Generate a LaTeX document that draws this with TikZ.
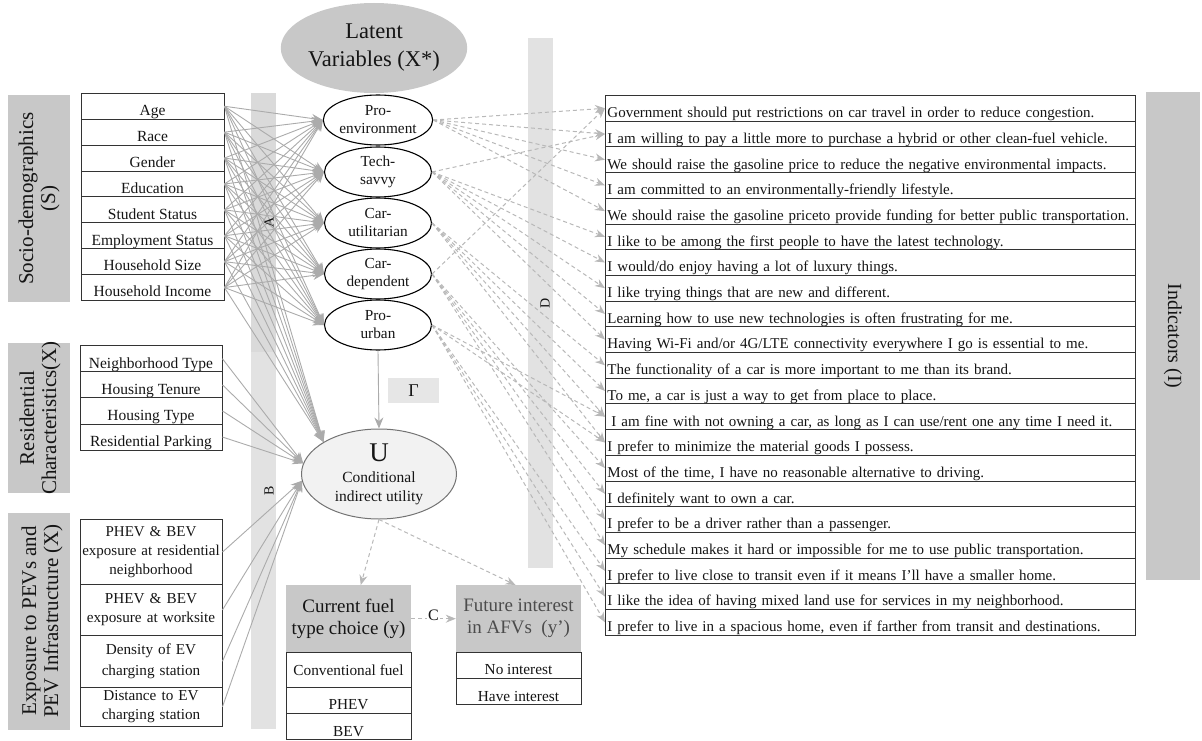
\documentclass[tikz,border=0pt]{standalone}
\usepackage{fontspec}
\setmainfont{Liberation Serif}
\usetikzlibrary{arrows.meta,shapes.geometric}
\definecolor{barA}{HTML}{C8C8C8}
\definecolor{barL}{HTML}{E2E2E2}
\definecolor{barL2}{HTML}{DADADA}
\definecolor{gbox}{HTML}{E6E6E6}
\definecolor{ufill}{HTML}{F2F2F2}
\definecolor{lineS}{HTML}{ABABAB}
\definecolor{lineD}{HTML}{B8B8B8}
\definecolor{ink}{HTML}{151515}
\begin{document}
\begin{tikzpicture}[x=1pt,y=-1pt,
  every node/.style={text=ink},
  sitem/.style={draw=black!80, line width=0.9pt, minimum width=143pt, minimum height=25.9pt, inner sep=0pt, text height=22.2pt, text depth=3.7pt, font=\fontsize{15.5}{18}\selectfont},
  ritem/.style={sitem, minimum width=142pt, minimum height=26.1pt, text height=22.4pt},
  eitem/.style={draw=black!80, line width=0.9pt, minimum width=142pt, inner sep=0pt, text width=142pt, align=center, anchor=north, font=\fontsize{15.2}{19}\selectfont},
  latent/.style={ellipse, draw=black, line width=1.1pt, fill=white, minimum width=107pt, minimum height=50pt, inner sep=0pt, align=center, font=\fontsize{15.3}{18}\selectfont},
  indic/.style={draw=black!80, line width=0.9pt, anchor=north west, inner xsep=2pt, inner ysep=0pt, text width=526pt, minimum height=25.7pt, text height=22.2pt, text depth=3.5pt, font=\fontsize{15}{16}\selectfont},
  frow/.style={draw=black!80, line width=0.9pt, anchor=north, minimum width=125pt, inner sep=0pt, font=\fontsize{15.3}{18}\selectfont},
  fhead/.style={fill=barA, anchor=north, minimum width=125pt, minimum height=67pt, inner sep=0pt, align=center, font=\fontsize{19}{22}\selectfont},
  sidelab/.style={rotate=90, align=center, font=\fontsize{21}{22}\selectfont},
  barlab/.style={rotate=90, font=\fontsize{14}{14}\selectfont},
  sarr/.style={draw=lineS, line width=0.9pt, -{Stealth[length=11pt,width=9pt]}},
  darr/.style={draw=lineD, line width=1pt, dash pattern=on 4pt off 3pt, -{Stealth[length=10pt,width=8pt]}}
]
\useasboundingbox (0,0) rectangle (1202,741);
% background bars
\fill[barA] (8,95) rectangle (70,302);
\fill[barA] (8,343) rectangle (70,493);
\fill[barA] (8,513) rectangle (70,730);
\fill[barA] (1146,92) rectangle (1200,580);
\fill[barL2] (251,93) rectangle (276,352);
\fill[barL] (251,352) rectangle (276,729);
\fill[barL] (528,38) rectangle (553,568);
\node[sidelab] (labS) at (39,198.5) {Socio-demographics\\(S)};
\node[sidelab] (labR) at (40,418) {Residential\\Characteristics(X)};
\node[sidelab] (labE) at (42,621) {Exposure to PEVs and\\PEV Infrastructure (X)};
\node[rotate=-90, font=\fontsize{20}{21}\selectfont] (labI) at (1173,336) {Indicators (I)};
% socio-demographic items
\foreach [count=\i] \t in {Age,Race,Gender,Education,Student Status,Employment Status,Household Size,Household Income}
  \node[sitem] (s\i) at (152.5,{93.3+25.9*(\i-0.5)}) {\t};
% residential items
\foreach [count=\i] \t in {Neighborhood Type,Housing Tenure,Housing Type,Residential Parking}
  \node[ritem] (r\i) at (151,{345.7+26.1*(\i-0.5)}) {\t};
% exposure items
\node[eitem, minimum height=64.7pt, font=\fontsize{15}{19}\selectfont] (e1) at (151,519.3) {PHEV \& BEV\\exposure at residential\\neighborhood};
\node[eitem, minimum height=51pt] (e2) at (151,584) {PHEV \& BEV\\exposure at worksite};
\node[eitem, minimum height=51.7pt, font=\fontsize{15.2}{21}\selectfont] (e3) at (151,635) {Density of EV\\charging station};
\node[eitem, minimum height=39.3pt] (e4) at (151,686.7) {Distance to EV\\charging station};
% latent variables
\node[ellipse, fill=barA, minimum width=173pt, minimum height=90pt, inner sep=0pt, align=center, font=\fontsize{22.5}{28}\selectfont] (lv) at (374,48) {Latent\\Variables (X*)};
\node[latent] (pe) at (378,120) {Pro-\\environment};
\node[latent] (ts) at (378,172) {Tech-\\savvy};
\node[latent] (cu) at (378,223) {Car-\\utilitarian};
\node[latent] (cd) at (378,274) {Car-\\dependent};
\node[latent] (pu) at (378,325) {Pro-\\urban};
% Gamma
\node[fill=gbox, minimum width=51pt, minimum height=25pt, inner sep=0pt, font=\fontsize{18}{18}\selectfont] (gam) at (413.5,390.5) {Γ};
% utility
\node[ellipse, fill=ufill, draw=black!55, line width=1pt, minimum width=155pt, minimum height=90pt, inner sep=0pt, align=center, font=\fontsize{15.5}{18.5}\selectfont] (U) at (379,474) {{\fontsize{27}{27}\selectfont U}\\[3pt]Conditional\\indirect utility};
% choices
\node[fhead] (cf) at (348.5,585) {Current fuel\\type choice (y)};
\node[frow, minimum height=34.7pt] (cf1) at (348.5,652) {Conventional fuel};
\node[frow, minimum height=26pt, text height=22.3pt, text depth=3.7pt] (cf2) at (348.5,686.7) {PHEV};
\node[frow, minimum height=26.6pt, text height=22.9pt, text depth=3.7pt] (cf3) at (348.5,712.7) {BEV};
\node[fhead, text=black!70] (fi) at (518.5,585) {Future interest\\in AFVs~~(y')};
\node[frow, minimum height=26.3pt, text height=21.8pt, text depth=4.5pt] (fi1) at (518.5,652) {No interest};
\node[frow, minimum height=26pt, text height=22.3pt, text depth=3.7pt] (fi2) at (518.5,678.3) {Have interest};
% indicators
\foreach [count=\i] \t in {
 {Government should put restrictions on car travel in order to reduce congestion.},
 {I am willing to pay a little more to purchase a hybrid or other clean-fuel vehicle.},
 {We should raise the gasoline price to reduce the negative environmental impacts.},
 {I am committed to an environmentally-friendly lifestyle.},
 {We should raise the gasoline priceto provide funding for better public transportation.},
 {I like to be among the first people to have the latest technology.},
 {I would/do enjoy having a lot of luxury things.},
 {I like trying things that are new and different.},
 {Learning how to use new technologies is often frustrating for me.},
 {Having Wi-Fi and/or 4G/LTE connectivity everywhere I go is essential to me.},
 {The functionality of a car is more important to me than its brand.},
 {To me, a car is just a way to get from place to place.},
 {\hspace{4pt}I am fine with not owning a car, as long as I can use/rent one any time I need it.},
 {I prefer to minimize the material goods I possess.},
 {Most of the time, I have no reasonable alternative to driving.},
 {I definitely want to own a car.},
 {I prefer to be a driver rather than a passenger.},
 {My schedule makes it hard or impossible for me to use public transportation.},
 {I prefer to live close to transit even if it means I'll have a smaller home.},
 {I like the idea of having mixed land use for services in my neighborhood.},
 {I prefer to live in a spacious home, even if farther from transit and destinations.}}
  \node[indic] (ind\i) at (605,{95+25.7*(\i-1)}) {\makebox[526pt][l]{\t}};
% solid connectors
\foreach \s in {1,...,8} {
  \foreach \l in {pe,ts,cu,cd,pu}
    \draw[sarr] (s\s.east) -- (\l.west);
  \draw[sarr] (s\s.east) -- (U.150);
}
\foreach \r in {1,...,4} \draw[sarr] (r\r.east) -- (U.172);
\foreach \e in {1,...,4} \draw[sarr] (e\e.east) -- (U.185);
\draw[sarr] (pu.south) -- (U.north);
% dashed connectors to indicators
\foreach \l/\k in {pe/1,pe/2,pe/3,pe/4,pe/5,ts/2,ts/6,ts/7,ts/8,ts/9,ts/10,cu/11,cu/12,cu/13,cu/14,cd/1,cd/15,cd/16,cd/17,cd/18,pu/13,pu/14,pu/19,pu/20,pu/21}
  \draw[darr] (\l.east) -- (ind\k.west);
% choice connectors
\draw[darr] (U.south) -- (cf.70);
\draw[darr] (U.south) -- (fi.95);
\draw[darr] (cf.east) -- node[fill=white, inner sep=1pt, yshift=3pt, font=\fontsize{16}{16}\selectfont] (cl) {C} (fi.west);
% bar labels on top
\node[barlab] (labA) at (269,222) {A};
\node[barlab] (labB) at (269,491) {B};
\node[barlab] (labD) at (545,303) {D};
\end{tikzpicture}
\end{document}
